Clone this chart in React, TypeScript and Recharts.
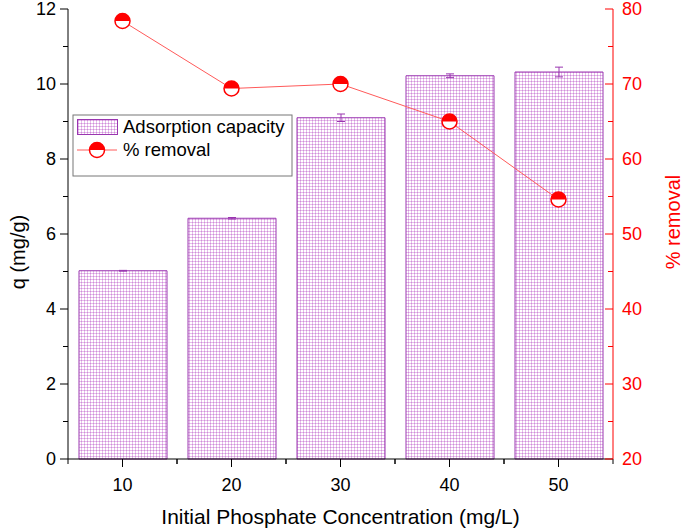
import React from 'react';
import { ComposedChart, Bar, Line, XAxis, YAxis, ErrorBar } from 'recharts';

const concentrations = ['10', '20', '30', '40', '50'];
const capacity = [5.02, 6.42, 9.1, 10.22, 10.32];
const capacityErr = [0.01, 0.02, 0.1, 0.05, 0.13];
const removal = [78.4, 69.4, 70.0, 65.0, 54.6];
const qTicks = [0, 1, 2, 3, 4, 5, 6, 7, 8, 9, 10, 11, 12];
const removalTicks = [20, 25, 30, 35, 40, 45, 50, 55, 60, 65, 70, 75, 80];

const data = concentrations.map((conc, i) => ({
  conc,
  q: capacity[i],
  qErr: capacityErr[i],
  removal: removal[i],
}));

const FONT = '"Liberation Sans", Arial, sans-serif';
const RED = '#ff0000';
const PURPLE = '#9a36b0';

const LeftTick = (props: any) => {
  const { x, y, payload } = props;
  const major = payload.value % 2 === 0;
  return (
    <g>
      <line x1={x - (major ? 8 : 5)} x2={x} y1={y} y2={y} stroke="#000" strokeWidth={1} />
      {major && (
        <text x={x - 12} y={y + 6} textAnchor="end" fontSize={18} fill="#000" fontFamily={FONT}>
          {payload.value}
        </text>
      )}
    </g>
  );
};

const RightTick = (props: any) => {
  const { x, y, payload } = props;
  const major = payload.value % 10 === 0;
  return (
    <g>
      <line x1={x - (major ? 8 : 5)} x2={x} y1={y} y2={y} stroke={RED} strokeWidth={1} />
      {major && (
        <text x={x + 9} y={y + 6} textAnchor="start" fontSize={18} fill={RED} fontFamily={FONT}>
          {payload.value}
        </text>
      )}
    </g>
  );
};

const BottomTick = (props: any) => {
  const { x, y, payload, width, visibleTicksCount } = props;
  let step = Number(width) / Number(visibleTicksCount);
  if (!Number.isFinite(step)) step = 109;
  return (
    <g stroke="#000" strokeWidth={1}>
      <line x1={x} x2={x} y1={y} y2={y + 8} />
      <line x1={x - step / 2} x2={x - step / 2} y1={y} y2={y + 5} />
      <line x1={x + step / 2} x2={x + step / 2} y1={y} y2={y + 5} />
      <text x={x} y={y + 32} textAnchor="middle" fontSize={18} fill="#000" stroke="none" fontFamily={FONT}>
        {payload.value}
      </text>
    </g>
  );
};

const HalfDot = (props: any) => {
  const { cx, cy } = props;
  if (cx == null || cy == null) return null;
  const r = 7.5;
  return (
    <g>
      <circle cx={cx} cy={cy} r={r} fill="#fff" stroke={RED} strokeWidth={1.5} />
      <path d={`M${cx - r},${cy} A${r},${r} 0 0 1 ${cx + r},${cy} Z`} fill={RED} />
    </g>
  );
};

const LeftTitle = (props: any) => {
  const vb = props.viewBox || { x: 0, y: 9, width: 68, height: 450 };
  const x = vb.x + 18;
  const y = vb.y + vb.height / 2 + 18;
  return (
    <text x={x} y={y} transform={`rotate(-90, ${x}, ${y})`} textAnchor="middle" dominantBaseline="central"
      fontSize={20} fill="#000" fontFamily={FONT}>
      q (mg/g)
    </text>
  );
};

const RightTitle = (props: any) => {
  const vb = props.viewBox || { x: 613, y: 9, width: 72, height: 450 };
  const x = vb.x + 60;
  const y = vb.y + vb.height / 2 - 12;
  return (
    <text x={x} y={y} transform={`rotate(-90, ${x}, ${y})`} textAnchor="middle" dominantBaseline="central"
      fontSize={20} fill={RED} fontFamily={FONT}>
      % removal
    </text>
  );
};

const BottomTitle = (props: any) => {
  const vb = props.viewBox || { x: 68, y: 459, width: 545, height: 71 };
  return (
    <text x={vb.x + vb.width / 2} y={vb.y + 65} textAnchor="middle" fontSize={21} fill="#000" fontFamily={FONT}>
      Initial Phosphate Concentration (mg/L)
    </text>
  );
};

const LegendBox = () => (
  <svg width={222} height={64} style={{ position: 'absolute', left: 72, top: 114 }}>
    <rect x={1} y={1} width={219} height={61} fill="#fff" stroke="#777" strokeWidth={1} />
    <rect x={5.5} y={5.5} width={40} height={15} fill="url(#xhatch)" stroke={PURPLE} strokeWidth={1} />
    <text x={51} y={19} fontSize={18.5} fill="#000" fontFamily={FONT}>Adsorption capacity</text>
    <line x1={5} x2={45} y1={36} y2={36} stroke="#ff5a5a" strokeWidth={1} />
    <HalfDot cx={25} cy={36} />
    <text x={51} y={42} fontSize={18.5} fill="#000" fontFamily={FONT}>% removal</text>
  </svg>
);

export default function App() {
  return (
    <div style={{ position: 'absolute', left: 0, top: 0, width: 685, height: 530, background: '#fff', fontFamily: FONT }}>
      <ComposedChart width={685} height={530} data={data} margin={{ top: 9, right: 0, bottom: 0, left: 0 }}>
        <defs>
          <pattern id="xhatch" width={3} height={3} patternUnits="userSpaceOnUse">
            <rect width={3} height={3} fill="#ffffff" />
            <rect x={0} y={0} width={3} height={1} fill="#e6bdeb" />
            <rect x={0} y={0} width={1} height={3} fill="#e6bdeb" />
            <rect x={0} y={0} width={1} height={1} fill="#cf8fd8" />
          </pattern>
        </defs>
        <XAxis
          dataKey="conc"
          height={71}
          interval={0}
          tickSize={0}
          tickMargin={0}
          tickLine={false}
          axisLine={{ stroke: '#000', strokeWidth: 1 }}
          tick={<BottomTick />}
          label={<BottomTitle />}
        />
        <XAxis
          xAxisId="top"
          dataKey="conc"
          orientation="top"
          height={0}
          tick={false}
          tickLine={false}
          axisLine={{ stroke: '#000', strokeWidth: 1 }}
        />
        <YAxis
          yAxisId="q"
          domain={[0, 12]}
          ticks={qTicks}
          width={68}
          interval={0}
          tickSize={0}
          tickMargin={0}
          tickLine={false}
          axisLine={{ stroke: '#000', strokeWidth: 1 }}
          tick={<LeftTick />}
          label={<LeftTitle />}
        />
        <YAxis
          yAxisId="pct"
          orientation="right"
          domain={[20, 80]}
          ticks={removalTicks}
          width={72}
          interval={0}
          tickSize={0}
          tickMargin={0}
          tickLine={false}
          axisLine={{ stroke: RED, strokeWidth: 1 }}
          tick={<RightTick />}
          label={<RightTitle />}
        />
        <Bar
          yAxisId="q"
          dataKey="q"
          fill="url(#xhatch)"
          stroke={PURPLE}
          strokeWidth={1}
          barSize={88}
          isAnimationActive={false}
        >
          <ErrorBar dataKey="qErr" width={4} stroke={PURPLE} strokeWidth={1} direction="y" />
        </Bar>
        <Line
          yAxisId="pct"
          dataKey="removal"
          type="linear"
          stroke="#ff5a5a"
          strokeWidth={1}
          dot={<HalfDot />}
          activeDot={false}
          isAnimationActive={false}
        />
      </ComposedChart>
      <LegendBox />
    </div>
  );
}
